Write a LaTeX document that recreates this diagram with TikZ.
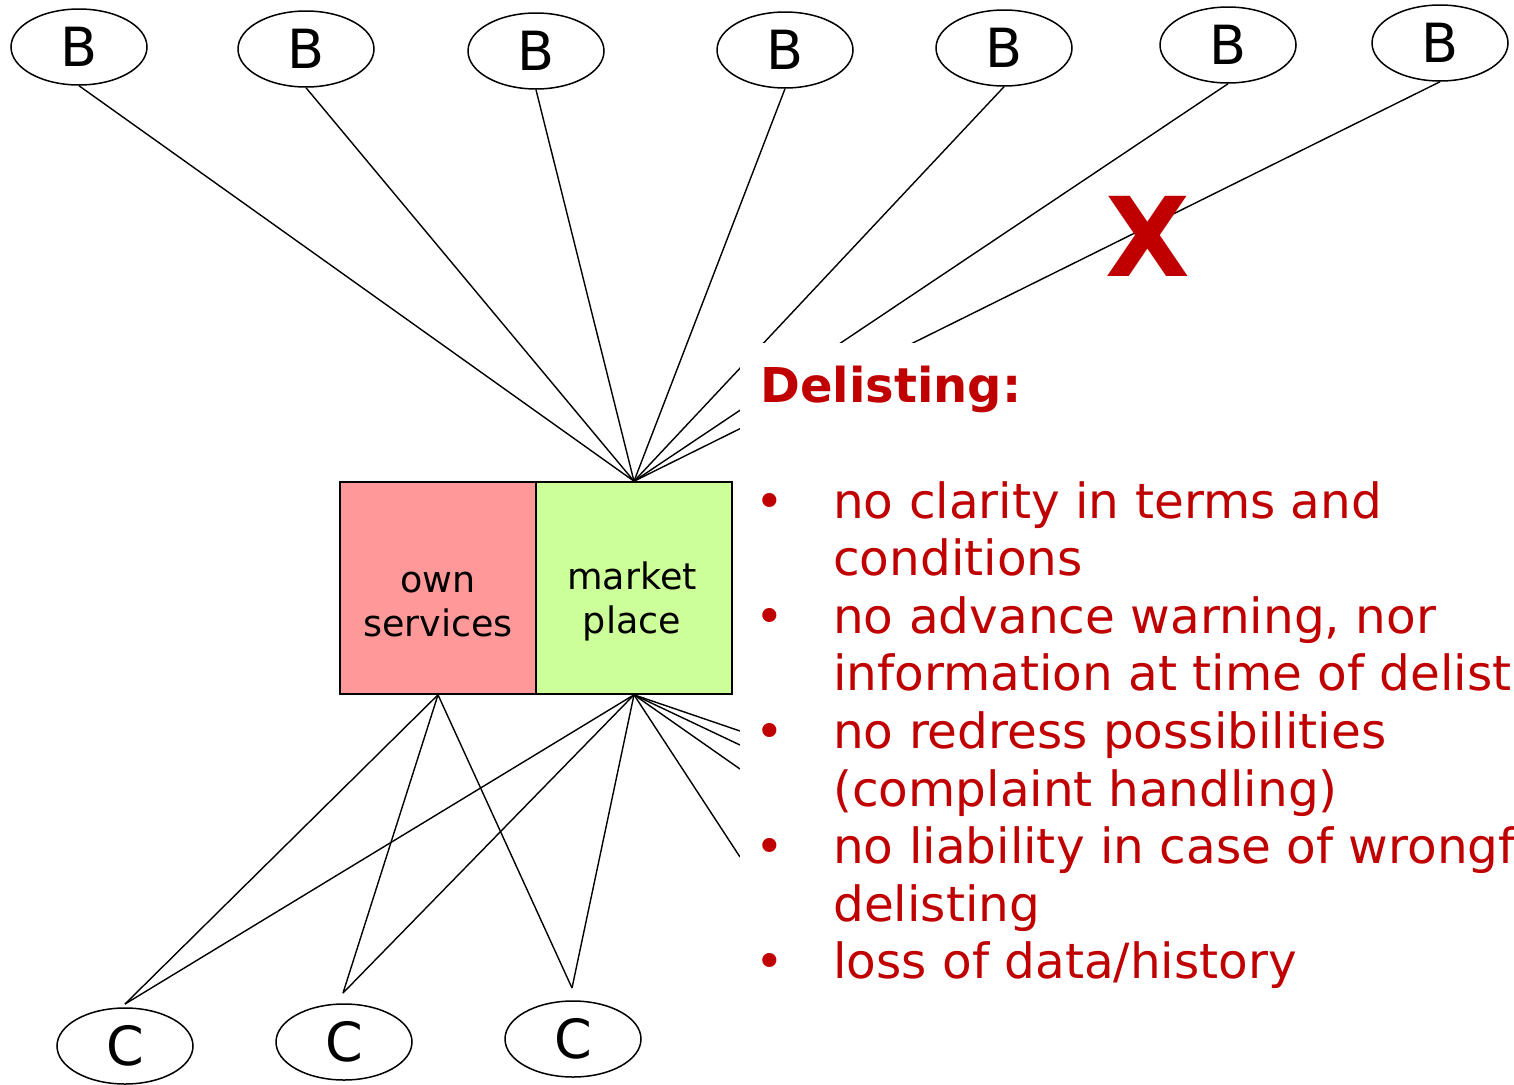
\documentclass[tikz,border=0pt]{standalone}
\usepackage{fontspec}
\setmainfont{DejaVu Sans}
\usetikzlibrary{shapes.geometric}
\definecolor{alert}{HTML}{C00000}
\definecolor{ownfill}{HTML}{FF9999}
\definecolor{mktfill}{HTML}{CCFF99}
\begin{document}
\begin{tikzpicture}[x=1pt,y=-1pt,
  party/.style={ellipse,draw,line width=1.5pt,minimum width=136pt,minimum height=76pt,
    inner sep=0pt,font=\fontsize{54}{60}\selectfont},
  link/.style={line width=1.4pt},
  half/.style={draw,line width=1.6pt,minimum width=196pt,minimum height=212pt,inner sep=0pt},
  boxlabel/.style={anchor=base,inner sep=0pt,font=\fontsize{36.5}{44}\selectfont},
  redtext/.style={text=alert,inner sep=0pt}]
\clip (0,0) rectangle (1514,1084);
\fill[white] (0,0) rectangle (1514,1084);

% business users at the top
\node[party] (b1) at (79,47) {B};
\node[party] (b2) at (306,49) {B};
\node[party] (b3) at (536,51) {B};
\node[party] (b4) at (785,50) {B};
\node[party] (b5) at (1004,48) {B};
\node[party] (b6) at (1228,45) {B};
\node[party] (b7) at (1440,43) {B};

% consumers at the bottom
\node[party] (c1) at (125,1046) {C};
\node[party] (c2) at (344,1042) {C};
\node[party] (c3) at (573,1039) {C};

% the platform: own services and market place
\node[half,fill=ownfill] (own) at (438,588) {};
\node[half,fill=mktfill] (mkt) at (634,588) {};
\node[boxlabel] (ownlbl) at (438,592) {\begin{tabular}[t]{@{}c@{}}own\\services\end{tabular}};
\node[boxlabel] (mktlbl) at (632,589) {\begin{tabular}[t]{@{}c@{}}market\\place\end{tabular}};

% line ends
\coordinate (c1end) at (125,1004);
\coordinate (c2end) at (343,993);
\coordinate (c3end) at (572,988);
\coordinate (r1) at (740,731);
\coordinate (r2) at (740,745);
\coordinate (r3) at (740,769);
\coordinate (r4) at (740,857);

% business users linked to the market place
\foreach \b in {b1,b2,b3,b4,b5,b6,b7}
  \draw[link] (\b.south) -- (mkt.north);

% consumers linked to both parts of the platform
\foreach \e in {c1end,c2end,c3end} {
  \draw[link] (own.south) -- (\e);
  \draw[link] (mkt.south) -- (\e);
}
\foreach \e in {r1,r2,r3,r4}
  \draw[link] (mkt.south) -- (\e);

% panel behind the text
\fill[white] (740,343) rectangle (1514,1084);

\node[redtext,anchor=base west,font=\bfseries\fontsize{48}{56}\selectfont] (head) at (760,402) {Delisting:};

\node[redtext,anchor=base west,font=\fontsize{48.5}{57.6}\selectfont] (items) at (755,518)
  {\begin{tabular}[t]{@{}p{78pt}@{}l@{}}
   •&no clarity in terms and\\
    &conditions\\
   •&no advance warning, nor\\
    &information at time of delisting\\
   •&no redress possibilities\\
    &(complaint handling)\\
   •&no liability in case of wrongful\\
    &delisting\\
   •&loss of data/history
  \end{tabular}};

% delisted user
\node[anchor=base,inner sep=0pt,text=alert,font=\bfseries\fontsize{110}{120}\selectfont] (cross) at (1148,276) {X};
\end{tikzpicture}
\end{document}
